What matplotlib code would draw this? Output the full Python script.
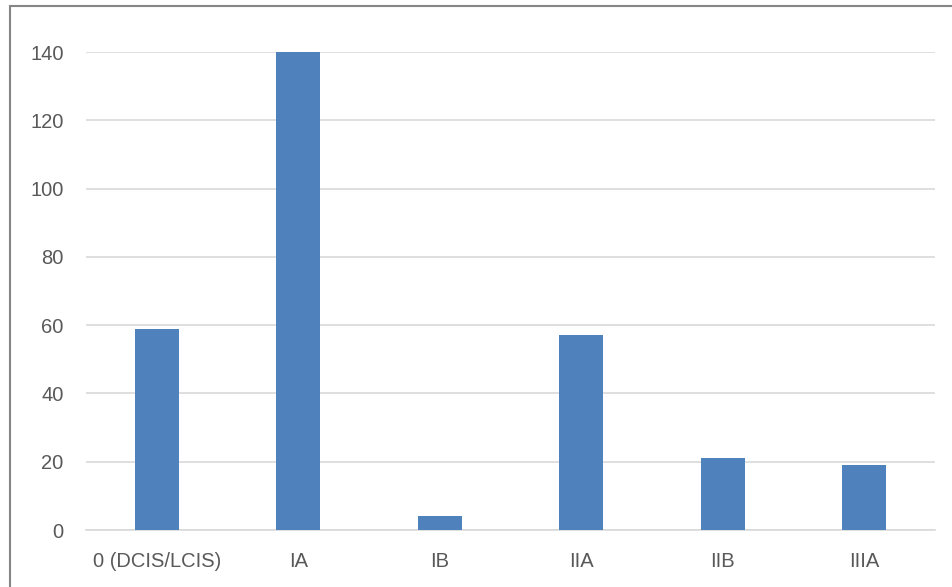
import matplotlib
matplotlib.use("Agg")
from matplotlib import pyplot as plt
from matplotlib.patches import Rectangle

# stage counts
stages = ['0 (DCIS/LCIS)', 'IA', 'IB', 'IIA', 'IIB', 'IIIA']
counts = [59, 140, 4, 57, 21, 19]
y_ticks = [0, 20, 40, 60, 80, 100, 120, 140]

plt.rcParams['font.family'] = ['Liberation Sans', 'DejaVu Sans']

fig = plt.figure(figsize=(9.52, 5.87), dpi=100)
ax = fig.add_axes([0.0903, 0.0971, 0.8918, 0.8143])

ax.bar(range(len(stages)), counts, width=0.31, color='#4F81BD', zorder=3)

ax.set_xlim(-0.5, len(stages) - 0.5)
ax.set_ylim(0, 140)
ax.set_yticks(y_ticks)
ax.set_xticks(range(len(stages)))
ax.set_xticklabels(stages)
ax.grid(axis='y', color='#D9D9D9', linewidth=1.2, zorder=0)
ax.tick_params(axis='both', length=0, labelsize=14.5, labelcolor='#595959')
ax.tick_params(axis='y', pad=16)
ax.tick_params(axis='x', pad=16)
for side in ['top', 'right', 'left']:
    ax.spines[side].set_visible(False)
ax.spines['bottom'].set_color('#D9D9D9')
ax.spines['bottom'].set_linewidth(1.2)

# outer chart border (cut off at right and bottom like the original)
fig.patches.append(Rectangle((10 / 952, -0.05), 1.1, 1 - 6 / 587 + 0.05,
                             transform=fig.transFigure, fill=False,
                             edgecolor='#868686', linewidth=1.5))

fig.savefig('out.png', dpi=100)
